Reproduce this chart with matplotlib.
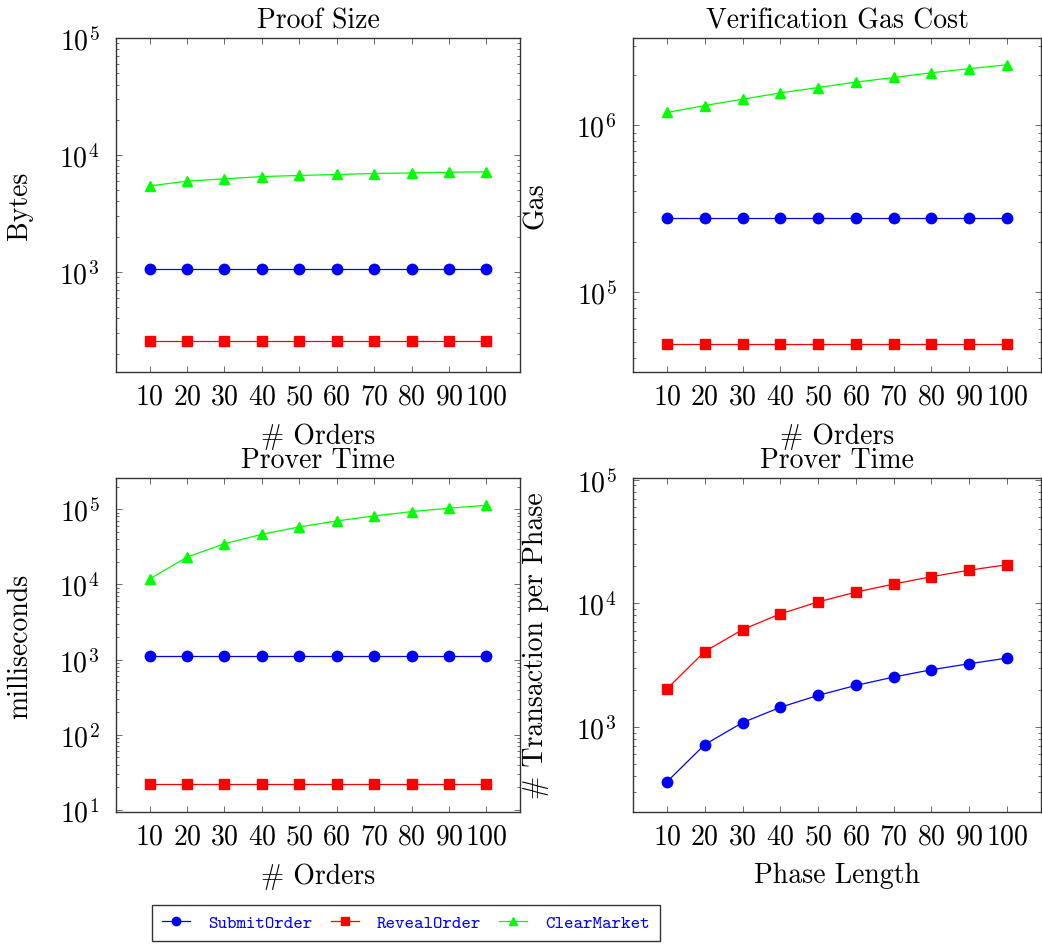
import matplotlib
matplotlib.use("Agg")
import matplotlib.pyplot as plt
from matplotlib.lines import Line2D

plt.rcParams.update({
    "font.family": "serif",
    "font.serif": ["cmr10"],
    "mathtext.fontset": "cm",
    "axes.formatter.use_mathtext": True,
    "font.size": 20,
    "axes.linewidth": 1.0,
    "axes.edgecolor": "#333333",
})

# data
orders = [10, 20, 30, 40, 50, 60, 70, 80, 90, 100]
phase_length = [10, 20, 30, 40, 50, 60, 70, 80, 90, 100]

proof_submit = [1055] * 10
proof_reveal = [254] * 10
proof_clear = [5430, 5960, 6240, 6530, 6670, 6800, 6930, 7020, 7110, 7160]

gas_submit = [276000] * 10
gas_reveal = [48500] * 10
gas_clear = [1.19e6, 1.31e6, 1.43e6, 1.56e6, 1.68e6, 1.81e6, 1.93e6, 2.06e6, 2.18e6, 2.30e6]

prover_submit = [1100] * 10
prover_reveal = [22] * 10
prover_clear = [11800, 23100, 34700, 46400, 58100, 69800, 81400, 92900, 103000, 113000]

tx_submit = [360, 720, 1083, 1440, 1800, 2165, 2530, 2900, 3240, 3600]
tx_reveal = [2035, 4070, 6120, 8200, 10250, 12300, 14300, 16400, 18500, 20500]

labels = ["SubmitOrder", "RevealOrder", "ClearMarket"]

BLUE, RED, GREEN = "#0000ff", "#ff0000", "#00ff00"
styles = {
    "SubmitOrder": dict(color=BLUE, marker="o"),
    "RevealOrder": dict(color=RED, marker="s"),
    "ClearMarket": dict(color=GREEN, marker="^"),
}

W, H = 1042, 945
fig = plt.figure(figsize=(W / 100, H / 100), dpi=100)


def box(x0, y0, x1, y1):
    return [x0 / W, 1 - y1 / H, (x1 - x0) / W, (y1 - y0) / H]


ax1 = fig.add_axes(box(116, 39, 520, 373))
ax2 = fig.add_axes(box(633, 39, 1041, 373))
ax3 = fig.add_axes(box(116, 479, 520, 813))
ax4 = fig.add_axes(box(633, 479, 1041, 813))


def draw(ax, x, series):
    for name, y in series:
        ax.plot(x, y, linewidth=0.9, markersize=7.5, label=name, **styles[name])


def style(ax, title, xlabel, ylabel, ylim):
    ax.set_yscale("log")
    ax.set_xlim(1, 109)
    ax.set_ylim(*ylim)
    ax.set_xticks(orders)
    ax.set_title(title, pad=7.7, fontsize=20)
    ax.set_xlabel(xlabel, fontsize=20, va="top")
    ax.set_ylabel(ylabel, fontsize=20)
    ax.xaxis.set_label_coords(0.5, -0.15)
    ax.yaxis.set_label_coords(-0.205, 0.5)
    ax.tick_params(which="both", direction="in", top=True, right=True,
                   color="#555555", width=0.6, labelsize=20)
    ax.tick_params(which="major", length=4.5)
    ax.tick_params(which="minor", length=2.5)
    ax.tick_params(axis="x", pad=8)
    ax.tick_params(axis="y", pad=12)


draw(ax1, orders, [("SubmitOrder", proof_submit), ("RevealOrder", proof_reveal),
                   ("ClearMarket", proof_clear)])
style(ax1, "Proof Size", "# Orders", "Bytes", (139, 1e5))

draw(ax2, orders, [("SubmitOrder", gas_submit), ("RevealOrder", gas_reveal),
                   ("ClearMarket", gas_clear)])
style(ax2, "Verification Gas Cost", "# Orders", "Gas", (33000, 3.33e6))

draw(ax3, orders, [("SubmitOrder", prover_submit), ("RevealOrder", prover_reveal),
                   ("ClearMarket", prover_clear)])
style(ax3, "Prover Time", "# Orders", "milliseconds", (9.4, 2.6e5))

draw(ax4, phase_length, [("SubmitOrder", tx_submit), ("RevealOrder", tx_reveal)])
style(ax4, "Prover Time", "Phase Length", "# Transaction per Phase", (205, 1.03e5))

handles = [Line2D([], [], linewidth=0.9, markersize=6, **styles[n]) for n in labels]
leg = fig.legend(handles, labels, loc="center", ncol=3,
                 bbox_to_anchor=(406 / W, 1 - 924 / H),
                 prop={"family": "cmtt10", "size": 13},
                 handlelength=1.55, handletextpad=1.0, columnspacing=1.0,
                 borderpad=0.55, borderaxespad=0, fancybox=False, framealpha=1,
                 edgecolor="#333333")
leg.get_frame().set_linewidth(1.0)
for t in leg.get_texts():
    t.set_color(BLUE)

fig.savefig("out.png", dpi=100)
